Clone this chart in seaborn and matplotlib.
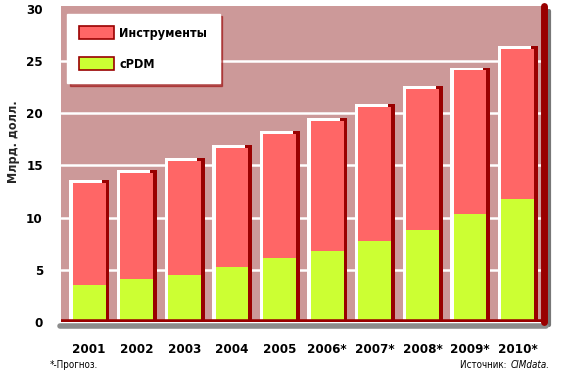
import numpy as np
import pandas as pd
import matplotlib.pyplot as plt
import seaborn as sns
from matplotlib.patches import Patch

years = ['2001', '2002', '2003', '2004', '2005', '2006*', '2007*', '2008*', '2009*', '2010*']
cpdm = [3.6, 4.1, 4.5, 5.3, 6.1, 6.8, 7.8, 8.8, 10.4, 11.8]
tools = [9.7, 10.2, 10.9, 11.4, 11.9, 12.5, 12.8, 13.5, 13.7, 14.4]
y_ticks = [0, 5, 10, 15, 20, 25, 30]

RED = '#ff6666'
GREEN = '#ccff33'
DARK = '#990000'
BG = '#cc9999'

df = pd.DataFrame({'year': years, 'cPDM': cpdm, 'tools': tools})
df['total'] = df['cPDM'] + df['tools']

sns.set_style('white')
plt.rcParams['font.family'] = ['DejaVu Sans Condensed', 'Liberation Sans Narrow', 'DejaVu Sans']
plt.rcParams['font.stretch'] = 'condensed'
plt.rcParams['font.weight'] = 'bold'
plt.rcParams['text.color'] = 'black'
plt.rcParams['xtick.color'] = 'black'
plt.rcParams['ytick.color'] = 'black'

fig = plt.figure(figsize=(5.7, 3.79), dpi=100)
ax = fig.add_axes([0.107, 0.150, 0.848, 0.835])
ax.set_facecolor(BG)

x = np.arange(len(years))
w = 0.69

# 3d-ish decoration: white highlight on the left/top, dark shadow on the right
ax.bar(x + 0.08, df['total'] + 0.28, width=w, color=DARK, zorder=2, linewidth=0)
ax.bar(x - 0.07, df['total'] + 0.28, width=w, color='white', zorder=3, linewidth=0)

sns.barplot(data=df, x='year', y='total', color=RED, width=w, saturation=1,
            ax=ax, zorder=4, linewidth=0)
sns.barplot(data=df, x='year', y='cPDM', color=GREEN, width=w, saturation=1,
            ax=ax, zorder=5, linewidth=0)

for t in y_ticks[1:-1]:
    ax.axhline(t, color='white', lw=1.8, zorder=1)

ax.set_xlim(-0.59, 9.56)
ax.set_ylim(0, 30.3)
ax.set_yticks(y_ticks)
ax.set_yticklabels([str(t) for t in y_ticks], fontsize=9.5, fontweight='bold')
ax.set_xticks(x)
ax.set_xticklabels(years, fontsize=9.5, fontweight='bold')
ax.tick_params(axis='both', length=0)
ax.tick_params(axis='y', pad=13)
ax.tick_params(axis='x', pad=15)
ax.set_xlabel('')
ax.set_ylabel('Млрд. долл.', fontsize=9, fontweight='bold')
ax.yaxis.set_label_coords(-0.085, 0.57)

for s in ax.spines.values():
    s.set_visible(False)

# floor and right wall
ax.axhline(0, color=DARK, lw=4, zorder=6)
ax.plot([-0.62, 9.6], [-0.4, -0.4], color='#8c8c8c', lw=4, zorder=6, clip_on=False)
ax.axvline(9.56, color=DARK, lw=5, zorder=6, clip_on=False)
ax.plot([9.66, 9.66], [-0.3, 29.8], color='#777777', lw=3, zorder=5, clip_on=False)

handles = [Patch(facecolor=RED, edgecolor=DARK, lw=1.2, label='Инструменты'),
           Patch(facecolor=GREEN, edgecolor=DARK, lw=1.2, label='cPDM')]
leg = ax.legend(handles=handles, loc='upper left', bbox_to_anchor=(0.012, 0.975),
                frameon=True, fancybox=False, shadow={'color': DARK},
                fontsize=9, handlelength=2.8, handleheight=1.2,
                labelspacing=1.4, borderpad=1.0, handletextpad=0.4,
                borderaxespad=0)
leg.get_frame().set_facecolor('white')
leg.get_frame().set_edgecolor('white')
leg.get_frame().set_alpha(1)
leg.set_zorder(10)

fig.text(0.088, 0.028, '*-Прогноз.', fontsize=7, fontweight='normal')
fig.text(0.965, 0.028, 'CIMdata.', fontsize=7, fontweight='normal', style='italic', ha='right')
fig.text(0.893, 0.028, 'Источник: ', fontsize=7, fontweight='normal', ha='right')

fig.savefig('out.png', dpi=100)
